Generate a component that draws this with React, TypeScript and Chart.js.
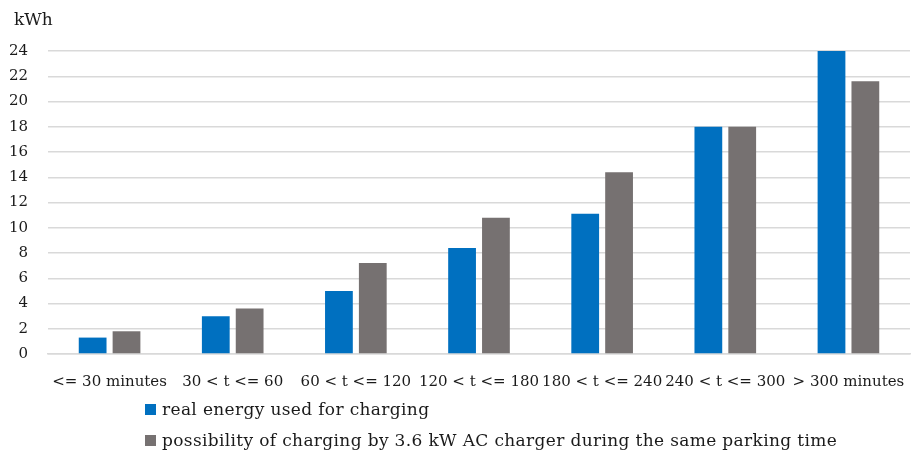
import React, { useEffect, useRef } from "react";
import { Chart, registerables } from "chart.js";

Chart.register(...registerables);

const categories = [
  "<= 30 minutes",
  "30 < t <= 60",
  "60 < t <= 120",
  "120 < t <= 180",
  "180 < t <= 240",
  "240 < t <= 300",
  "> 300 minutes",
];
const realEnergy = [1.3, 3.0, 5.0, 8.4, 11.1, 18.0, 24.0];
const possibleEnergy = [1.8, 3.6, 7.2, 10.8, 14.4, 18.0, 21.6];
const seriesNames = [
  "real energy used for charging",
  "possibility of charging by 3.6 kW AC charger during the same parking time",
];
const seriesColors = ["#0070C0", "#767171"];
const yUnit = "kWh";

const FONT = "'DejaVu Serif', serif";
const FS = 15;

export default function App() {
  const ref = useRef<HTMLCanvasElement | null>(null);

  useEffect(() => {
    document.body.style.margin = "0";
    if (!ref.current) return;
    const chart = new Chart(ref.current, {
      type: "bar",
      data: {
        labels: categories,
        datasets: [
          {
            label: seriesNames[0],
            data: realEnergy,
            backgroundColor: seriesColors[0],
            categoryPercentage: 0.55,
            barPercentage: 0.82,
          },
          {
            label: seriesNames[1],
            data: possibleEnergy,
            backgroundColor: seriesColors[1],
            categoryPercentage: 0.55,
            barPercentage: 0.82,
          },
        ],
      },
      options: {
        animation: false,
        responsive: false,
        maintainAspectRatio: false,
        layout: { padding: { left: 0, right: 2, top: 51, bottom: 42 } },
        plugins: {
          legend: { display: false },
          tooltip: { enabled: false },
        },
        scales: {
          x: {
            afterFit: (scale: any) => {
              scale.paddingLeft = 0;
              scale.paddingRight = 0;
            },
            grid: { display: false, drawTicks: false },
            border: { display: true, color: "#d9d9d9", width: 1.5 },
            ticks: {
              color: "#1a1a1a",
              font: { family: FONT, size: FS },
              padding: 19,
              maxRotation: 0,
              autoSkip: false,
            },
          },
          y: {
            min: 0,
            max: 24,
            afterFit: (scale: any) => {
              scale.width = 48;
            },
            grid: { color: "#d9d9d9", lineWidth: 1.5, drawTicks: false },
            border: { display: false },
            ticks: {
              stepSize: 2,
              color: "#1a1a1a",
              font: { family: FONT, size: FS },
              padding: 20,
            },
          },
        },
      },
    });
    return () => chart.destroy();
  }, []);

  const textStyle: React.CSSProperties = {
    fontFamily: FONT,
    fontSize: 17,
    color: "#1a1a1a",
    whiteSpace: "nowrap",
  };

  return (
    <div style={{ position: "fixed", left: 0, top: 0, width: 912, height: 452, background: "#fff" }}>
      <canvas ref={ref} width={912} height={452} style={{ position: "absolute", left: 0, top: 0 }} />
      <div style={{ ...textStyle, position: "absolute", left: 14, top: 9 }}>{yUnit}</div>
      {seriesNames.map((name, i) => (
        <div
          key={name}
          style={{
            ...textStyle,
            letterSpacing: "0.35px",
            position: "absolute",
            left: 145,
            top: 399 + i * 31,
            display: "flex",
            alignItems: "center",
          }}
        >
          <span
            style={{
              display: "inline-block",
              width: 11,
              height: 11,
              background: seriesColors[i],
              marginRight: 6,
            }}
          />
          {name}
        </div>
      ))}
    </div>
  );
}
